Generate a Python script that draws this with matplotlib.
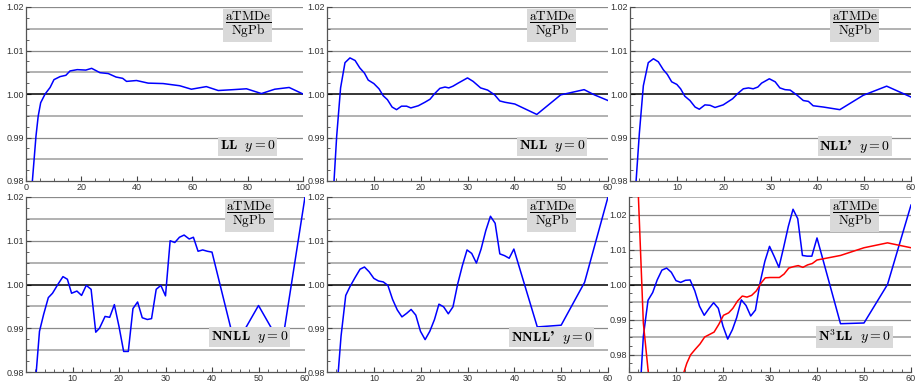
import matplotlib
matplotlib.use("Agg")
import matplotlib.pyplot as plt
from matplotlib.ticker import MultipleLocator, FixedLocator

plt.rcParams['mathtext.fontset'] = 'cm'
plt.rcParams['font.family'] = ['Liberation Sans', 'DejaVu Sans']

# ---- data (ratio aTMDe / NgPb) ----
ll_x = [2.0, 2.3, 3.6, 4.4, 5.3, 6.9, 8.7, 10.1, 12.3, 14.4, 15.9, 18.5, 21.6, 23.7,
        26.7, 29.7, 32.5, 34.9, 36.3, 39.9, 44.1, 49.5, 55.5, 59.7, 65.1, 69.4,
        74.8, 79.6, 85.0, 89.8, 95.0, 100.0]
ll_y = [0.976, 0.980, 0.9903, 0.9949, 0.998, 1.0000, 1.0015, 1.0033, 1.0040, 1.0043,
        1.0053, 1.0056, 1.0055, 1.0059, 1.0049, 1.0047, 1.0039, 1.0036, 1.0029,
        1.0031, 1.0025, 1.0024, 1.0019, 1.0011, 1.0017, 1.0008, 1.0010, 1.0012,
        1.0001, 1.0011, 1.0015, 1.0000]

nll_x = [1.2, 1.5, 2.06, 2.9, 3.84, 4.9, 6.0, 7.0, 8.0, 8.8, 10.0, 11.1, 12.0, 12.9,
         13.9, 14.85, 15.9, 17.0, 17.9, 19.5, 20.9, 22.0, 23.0, 24.1, 25.2, 26.0,
         26.9, 28.0, 30.0, 31.2, 32.8, 34.3, 35.8, 36.9, 38.0, 40.1, 44.8, 49.9,
         54.9, 57.1, 60.0]
nll_y = [0.976, 0.980, 0.9902, 1.0014, 1.0072, 1.0083, 1.0077, 1.0060, 1.0048, 1.0032,
         1.0024, 1.0012, 0.9996, 0.9987, 0.9970, 0.9964, 0.9972, 0.9972, 0.9968,
         0.9973, 0.9981, 0.9988, 1.0001, 1.0013, 1.0016, 1.0014, 1.0018, 1.0025,
         1.0037, 1.0029, 1.0014, 1.0009, 0.9998, 0.9984, 0.9981, 0.9977, 0.9953,
         0.9998, 1.0010, 0.9998, 0.9985]

nllp_x = [1.0, 1.3, 2.0, 2.85, 3.9, 5.0, 6.05, 7.1, 7.97, 8.9, 10.0, 10.8, 11.7, 12.8,
          13.9, 14.8, 16.0, 17.1, 18.15, 19.9, 21.9, 23.1, 24.2, 25.3, 26.3, 27.3,
          28.1, 29.75, 31.0, 32.0, 33.1, 34.2, 35.7, 37.0, 38.1, 39.1, 41.3, 44.8,
          49.8, 54.8, 60.0]
nllp_y = [0.976, 0.980, 0.9910, 1.0019, 1.0072, 1.0081, 1.0074, 1.0056, 1.0045, 1.0028,
          1.0022, 1.0012, 0.9995, 0.9985, 0.9970, 0.9965, 0.9975, 0.9974, 0.9969,
          0.9975, 0.9989, 1.0002, 1.0012, 1.0014, 1.0012, 1.0016, 1.0025, 1.0035,
          1.0028, 1.0014, 1.0010, 1.0009, 0.9997, 0.9985, 0.9983, 0.9973, 0.9970,
          0.9964, 0.9997, 1.0018, 0.9993]

nnll_x = [2.0, 2.2, 2.9, 3.8, 4.8, 5.7, 6.9, 7.95, 8.9, 9.8, 10.95, 11.95, 12.96, 14.0,
          15.0, 15.8, 17.0, 18.0, 19.0, 20.0, 21.0, 22.0, 23.0, 24.0, 25.0, 26.1,
          27.0, 28.0, 29.0, 30.0, 31.0, 32.0, 33.0, 34.0, 35.1, 36.0, 37.0, 38.0,
          39.0, 40.0, 45.0, 50.0, 55.0, 60.0]
nnll_y = [0.977, 0.980, 0.9893, 0.9932, 0.9970, 0.9980, 1.0001, 1.0018, 1.0012, 0.9980,
          0.9985, 0.9975, 0.9998, 0.9989, 0.9891, 0.9900, 0.9927, 0.9925, 0.9954,
          0.9904, 0.9847, 0.9847, 0.9945, 0.9960, 0.9924, 0.9920, 0.9922, 0.9989,
          0.9998, 0.9974, 1.0100, 1.0096, 1.0108, 1.0113, 1.0104, 1.0108, 1.0076,
          1.0079, 1.0076, 1.0074, 0.9859, 0.9952, 0.9859, 1.0200]

nnllp_x = [2.2, 2.4, 3.0, 4.0, 4.9, 6.0, 7.06, 8.0, 9.0, 10.0, 11.0, 12.0, 13.0, 14.0,
           15.0, 16.0, 17.0, 17.96, 18.96, 19.96, 20.95, 21.95, 22.95, 23.9, 24.9,
           25.9, 26.9, 27.9, 28.9, 29.9, 30.9, 31.9, 32.9, 33.9, 34.9, 35.9, 36.9,
           37.9, 38.9, 39.9, 44.9, 50.0, 55.0, 60.0]
nnllp_y = [0.977, 0.980, 0.9882, 0.9975, 0.9995, 1.0016, 1.0035, 1.0040, 1.0029,
           1.0014, 1.0008, 1.0006, 0.9998, 0.9966, 0.9942, 0.9926, 0.9934, 0.9943,
           0.9930, 0.9893, 0.9874, 0.9893, 0.9920, 0.9955, 0.9949, 0.9933, 0.9949,
           1.0001, 1.0043, 1.0079, 1.0071, 1.0049, 1.0081, 1.0123, 1.0156, 1.0140,
           1.0070, 1.0066, 1.0060, 1.0081, 0.9903, 0.9907, 1.0005, 1.0200]

n3ll_x = [2.3, 2.6, 3.05, 4.05, 5.04, 6.0, 7.0, 8.0, 9.0, 10.0, 11.0, 12.0, 13.0, 14.0,
          15.0, 16.0, 17.0, 18.0, 19.0, 20.0, 21.0, 22.0, 22.9, 23.9, 24.9, 25.9,
          26.9, 27.9, 28.9, 29.9, 30.9, 31.9, 32.9, 33.9, 34.9, 35.9, 36.9, 37.9,
          38.9, 40.0, 45.0, 50.0, 55.0, 60.0]
n3ll_y = [0.970, 0.975, 0.9852, 0.9955, 0.9977, 1.0013, 1.0041, 1.0047, 1.0035,
          1.0011, 1.0006, 1.0012, 1.0013, 0.9982, 0.9938, 0.9912, 0.9931, 0.9948,
          0.9932, 0.9881, 0.9844, 0.9871, 0.9905, 0.9956, 0.9940, 0.9910, 0.9927,
          1.0006, 1.0066, 1.0109, 1.0080, 1.0049, 1.0106, 1.0166, 1.0215, 1.0188,
          1.0083, 1.0081, 1.0081, 1.0133, 0.9888, 0.9890, 1.0000, 1.0227]

# second (red) curve in the N3LL panel
n3ll_red_x = [1.5, 2.0, 3.05, 4.1, 5.0, 7.0, 9.0, 11.0, 11.7, 12.3, 13.1, 14.1, 15.1,
              16.1, 17.1, 18.1, 19.1, 20.1, 21.2, 22.1, 23.1, 24.1, 25.1, 26.1, 27.1,
              28.1, 29.0, 30.0, 31.0, 32.0, 33.0, 34.0, 35.0, 36.0, 37.0, 38.0, 39.0,
              40.0, 45.0, 50.0, 55.0, 60.0]
n3ll_red_y = [1.042, 1.0251, 0.9890, 0.9750, 0.9650, 0.9600, 0.9630, 0.9720, 0.9750,
              0.9775, 0.9799, 0.9815, 0.9830, 0.9850, 0.9857, 0.9864, 0.9886, 0.9912,
              0.9919, 0.9932, 0.9953, 0.9967, 0.9964, 0.9969, 0.9982, 1.0004, 1.0019,
              1.0020, 1.0020, 1.0020, 1.0030, 1.0047, 1.0051, 1.0054, 1.0049, 1.0056,
              1.0060, 1.0070, 1.0083, 1.0105, 1.0119, 1.0105]

orders = ["LL", "NLL", "NLL’", "NNLL", "NNLL’", "N^3LL"]
xmax = [100, 60, 60, 60, 60, 60]
xticks = [[0, 20, 40, 60, 80, 100], [10, 20, 30, 40, 50, 60], [10, 20, 30, 40, 50, 60],
          [10, 20, 30, 40, 50, 60], [10, 20, 30, 40, 50, 60], [0, 10, 20, 30, 40, 50, 60]]
ylims = [(0.98, 1.02)] * 5 + [(0.975, 1.025)]
yticks = [0.98, 0.99, 1.00, 1.01, 1.02]
curves = [(ll_x, ll_y), (nll_x, nll_y), (nllp_x, nllp_y),
          (nnll_x, nnll_y), (nnllp_x, nnllp_y), (n3ll_x, n3ll_y)]

W, H = 921, 383
# panel boxes in pixels: left, right, top, bottom
boxes = [(26, 303, 7, 181), (327, 608, 7, 181), (630, 911, 7, 181),
         (26, 305, 197, 372), (327, 608, 197, 372), (629, 911, 197, 372)]

fig = plt.figure(figsize=(W / 100, H / 100), dpi=100)

for i in range(6):
    l, r, t, b = boxes[i]
    ax = fig.add_axes([l / W, 1 - b / H, (r - l) / W, (b - t) / H])
    y0, y1 = ylims[i]

    # horizontal grid every 0.005
    levels = [round(0.975 + 0.005 * k, 3) for k in range(11)]
    for lev in levels:
        if lev <= y0 + 1e-9 or lev > y1 + 1e-9:
            continue
        if abs(lev - 1.0) < 1e-9:
            ax.axhline(lev, color='black', lw=1.1, zorder=2)
        elif abs(round(lev * 100) - lev * 100) < 1e-6:
            ax.axhline(lev, color='#8a8a8a', lw=0.9, zorder=1)
        else:
            ax.axhline(lev, color='#ababab', lw=1.3, zorder=1)

    x, y = curves[i]
    ax.plot(x, y, color='#0000ff', lw=1.1, zorder=3)
    if i == 5:
        ax.plot(n3ll_red_x, n3ll_red_y, color='#ff0000', lw=1.1, zorder=3)

    ax.set_xlim(0, xmax[i])
    ax.set_ylim(y0, y1)

    for s in ['top', 'right']:
        ax.spines[s].set_visible(False)
    for s in ['left', 'bottom']:
        ax.spines[s].set_color('#555555')
        ax.spines[s].set_linewidth(0.9)

    ax.xaxis.set_major_locator(FixedLocator(xticks[i]))
    ax.xaxis.set_minor_locator(MultipleLocator(5 if i == 0 else 2))
    ax.yaxis.set_major_locator(FixedLocator(yticks))
    ax.yaxis.set_minor_locator(MultipleLocator(0.0025))
    ax.set_yticklabels(["%.2f" % v for v in yticks])
    ax.tick_params(which='both', direction='in', color='#444444', labelsize=6.5,
                   labelcolor='#333333', pad=1.5)
    ax.tick_params(which='major', length=3.5, width=0.8)
    ax.tick_params(which='minor', length=2, width=0.6)

    box = dict(boxstyle='square,pad=0.12', fc='#d9d9d9', ec='none')
    ax.text(0.80, 0.895, r'$\dfrac{\mathrm{aTMDe}}{\mathrm{NgPb}}$', transform=ax.transAxes,
            ha='center', va='center', fontsize=9.5, bbox=box, zorder=5)
    ax.text(0.80, 0.20, r'$\mathbf{%s}\ \ y=0$' % orders[i], transform=ax.transAxes,
            ha='center', va='center', fontsize=10, bbox=box, zorder=5)

fig.savefig("out.png", dpi=100)
